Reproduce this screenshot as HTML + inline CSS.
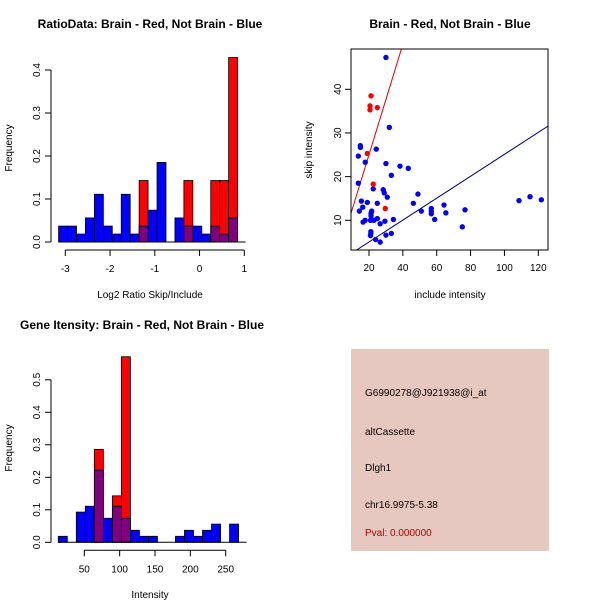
<!DOCTYPE html>
<html><head><meta charset="utf-8"><style>
body{margin:0;background:#fff;}
svg{display:block;font-family:"Liberation Sans",Arial,sans-serif;}
</style></head><body>
<svg id="s" width="600" height="600" viewBox="0 0 600 600">
<rect width="600" height="600" fill="#fff"/>
<text x="150" y="28" text-anchor="middle" font-size="12" font-weight="bold">RatioData: Brain - Red, Not Brain - Blue</text>
<text x="450" y="28" text-anchor="middle" font-size="12" font-weight="bold">Brain - Red, Not Brain - Blue</text>
<text x="142" y="329" text-anchor="middle" font-size="12" font-weight="bold">Gene Itensity: Brain - Red, Not Brain - Blue</text>
<text x="150" y="298" text-anchor="middle" font-size="10">Log2 Ratio Skip/Include</text>
<text transform="translate(12,148) rotate(-90)" text-anchor="middle" font-size="10">Frequency</text>
<text x="150" y="598" text-anchor="middle" font-size="10">Intensity</text>
<text transform="translate(12,448) rotate(-90)" text-anchor="middle" font-size="10">Frequency</text>
<text x="450" y="298" text-anchor="middle" font-size="10">include intensity</text>
<text transform="translate(312,150) rotate(-90)" text-anchor="middle" font-size="10">skip intensity</text>
<g>
<rect x="351" y="349" width="198" height="202" fill="#e6c8c0"/>
<text x="365" y="396" font-size="10">G6990278@J921938@i_at</text>
<text x="365" y="435" font-size="10">altCassette</text>
<text x="365" y="471" font-size="10">Dlgh1</text>
<text x="365" y="508" font-size="10">chr16.9975-5.38</text>
<text x="365" y="536" font-size="10" fill="#b00000">Pval: 0.000000</text>
</g>
</svg>
<script>
// ---- Ratio histogram data ----
const ratioBinStart = -3.15;
const ratioBinWidth = 0.2;
const ratioBlue = [0.037,0.037,0.0185,0.056,0.111,0.037,0.0185,0.111,0.0185,0.037,0.074,0.185,0,0.056,0.037,0.037,0.0185,0.037,0.0185,0.056];
const ratioRed  = [0,0,0,0,0,0,0,0,0,0.143,0,0,0,0,0.143,0,0,0.143,0.143,0.429];
const ratioXTicks = [-3,-2,-1,0,1];
const ratioYTicks = [0,0.1,0.2,0.3,0.4];
// ---- Intensity histogram data ----
const intBinStart = 13.2;
const intBinWidth = 12.75;
const intBlue = [0.0185,0,0.093,0.111,0.222,0.074,0.111,0.074,0.037,0.0185,0.0185,0,0,0.0185,0.037,0.0185,0.037,0.056,0,0.056];
const intRed  = [0,0,0,0,0.286,0,0.143,0.571,0,0,0,0,0,0,0,0,0,0,0,0];
const intXTicks = [50,100,150,200,250];
const intYTicks = [0,0.1,0.2,0.3,0.4,0.5];
// ---- Scatter data ----
const redX = [21.2,20.6,20.6,24.9,19.0,22.5,29.6];
const redY = [38.5,36.2,35.3,35.8,25.3,18.3,12.7];
const blueX = [30.0,32.0,14.9,14.9,13.7,24.3,17.8,13.7,30.0,33.2,38.3,43.2,22.5,28.4,29.0,30.8,15.5,19.0,24.9,16.3,14.3,21.6,21.2,21.2,17.7,16.5,20.9,22.9,24.9,26.6,29.4,34.4,21.1,21.1,20.9,30.0,33.2,23.9,26.6,48.9,46.2,50.9,56.8,56.8,56.8,58.8,64.3,65.4,75.1,76.7,108.6,115.1,121.8];
const blueY = [47.3,31.3,27.1,26.7,24.7,26.3,23.3,18.5,23.0,20.3,22.4,21.9,17.2,17.0,16.3,15.3,14.4,14.1,13.9,13.0,12.1,12.1,11.6,11.0,10.0,9.6,10.0,10.0,10.4,9.2,9.8,10.2,7.4,7.0,6.5,6.6,7.0,5.6,5.0,16.0,13.9,12.1,12.7,12.1,11.5,10.2,13.5,11.7,8.5,12.4,14.5,15.4,14.7];
const redLine = [-0.24,1.264];   // intercept, slope
const blueLine = [0.01,0.251];
const scXTicks = [20,40,60,80,100,120];
const scYTicks = [10,20,30,40];

const NS = "http://www.w3.org/2000/svg";
const svg = document.getElementById('s');
function mk(tag, attrs, parent){const e=document.createElementNS(NS,tag);for(const k in attrs)e.setAttribute(k,attrs[k]);(parent||svg).appendChild(e);return e;}

function histogram(opts){
  const g = mk('g',{});
  
  
  const xs = v => opts.x0px + (v - opts.x0) * opts.xk;
  const ys = v => opts.y0px - v * opts.yk;
  const n = opts.blue.length;
  for(let i=0;i<n;i++){
    const a = opts.binStart + i*opts.binWidth, b = a + opts.binWidth;
    const r = opts.red[i], bl = opts.blue[i];
    if(r>0){
      const e = mk('rect',{x:xs(a),y:ys(r),width:xs(b)-xs(a),height:ys(0)-ys(r),fill:'#ff0000',stroke:'#000','stroke-width':0.8},g);
      
      
    }
    if(bl>0){
      const fill = r>0 ? '#800080' : '#0000ff';
      const e = mk('rect',{x:xs(a),y:ys(bl),width:xs(b)-xs(a),height:ys(0)-ys(bl),fill:fill,stroke:'#000','stroke-width':0.8},g);
      
      
    }
  }
  // baseline
  mk('line',{x1:xs(opts.binStart),x2:xs(opts.binStart+n*opts.binWidth)+8,y1:ys(0),y2:ys(0),stroke:'#000'},g);
  // y axis
  const yt = opts.yTicks;
  mk('line',{x1:51,x2:51,y1:ys(yt[0]),y2:ys(yt[yt.length-1]),stroke:'#000'},g);
  yt.forEach(t=>{
    mk('line',{x1:45,x2:51,y1:ys(t),y2:ys(t),stroke:'#000'},g);
    const tx = mk('text',{transform:`translate(40,${ys(t)}) rotate(-90)`,'text-anchor':'middle','font-size':10},g);
    tx.textContent = t.toFixed(1);
    
    
  });
  // x axis
  const xt = opts.xTicks; const ay = opts.y0px + 8;
  mk('line',{x1:xs(xt[0]),x2:xs(xt[xt.length-1]),y1:ay,y2:ay,stroke:'#000'},g);
  xt.forEach(t=>{
    mk('line',{x1:xs(t),x2:xs(t),y1:ay,y2:ay+6,stroke:'#000'},g);
    const tx = mk('text',{x:xs(t),y:ay+22,'text-anchor':'middle','font-size':10},g);
    tx.textContent = t;
    
    
  });
}

histogram({name:'ratio-histogram',binStart:ratioBinStart,binWidth:ratioBinWidth,blue:ratioBlue,red:ratioRed,xTicks:ratioXTicks,yTicks:ratioYTicks,x0:-3,x0px:65.3,xk:44.75,y0px:242,yk:430});
histogram({name:'intensity-histogram',binStart:intBinStart,binWidth:intBinWidth,blue:intBlue,red:intRed,xTicks:intXTicks,yTicks:intYTicks,x0:50,x0px:84.3,xk:0.707,y0px:542.3,yk:325});

// Scatter
(function(){
  const g = mk('g',{});
  
  
  const L=351,R=548,T=49,B=250;
  const xs = v => 369 + (v-20)*1.693;
  const ys = v => 220.3 - (v-10)*4.367;
  const clip = mk('clipPath',{id:'sc'},g); mk('rect',{x:L,y:T,width:R-L,height:B-T},clip);
  const xmin=(L-369)/1.693+20, xmax=(R-369)/1.693+20;
  [[redLine,'#dd0000','red-fit-line'],[blueLine,'#00008b','blue-fit-line']].forEach(([ln,c,nm])=>{
    const e = mk('line',{x1:xs(xmin),y1:ys(ln[0]+ln[1]*xmin),x2:xs(xmax),y2:ys(ln[0]+ln[1]*xmax),stroke:c,'stroke-width':1,'clip-path':'url(#sc)'},g);
    
    
  });
  blueX.forEach((x,i)=>{
    const e = mk('circle',{cx:xs(x),cy:ys(blueY[i]),r:2.7,fill:'#0000ff'},g);
    
    
  });
  redX.forEach((x,i)=>{
    const e = mk('circle',{cx:xs(x),cy:ys(redY[i]),r:2.7,fill:'#ff0000'},g);
    
    
  });
  mk('rect',{x:L,y:T,width:R-L,height:B-T,fill:'none',stroke:'#000'},g);
  scXTicks.forEach(t=>{
    mk('line',{x1:xs(t),x2:xs(t),y1:B,y2:B+6,stroke:'#000'},g);
    const tx = mk('text',{x:xs(t),y:B+21,'text-anchor':'middle','font-size':10},g);
    tx.textContent = t;
    
    
  });
  scYTicks.forEach(t=>{
    mk('line',{x1:L-6,x2:L,y1:ys(t),y2:ys(t),stroke:'#000'},g);
    const tx = mk('text',{transform:`translate(${L-10},${ys(t)}) rotate(-90)`,'text-anchor':'middle','font-size':10},g);
    tx.textContent = t;
    
    
  });
})();
</script>
</body></html>
